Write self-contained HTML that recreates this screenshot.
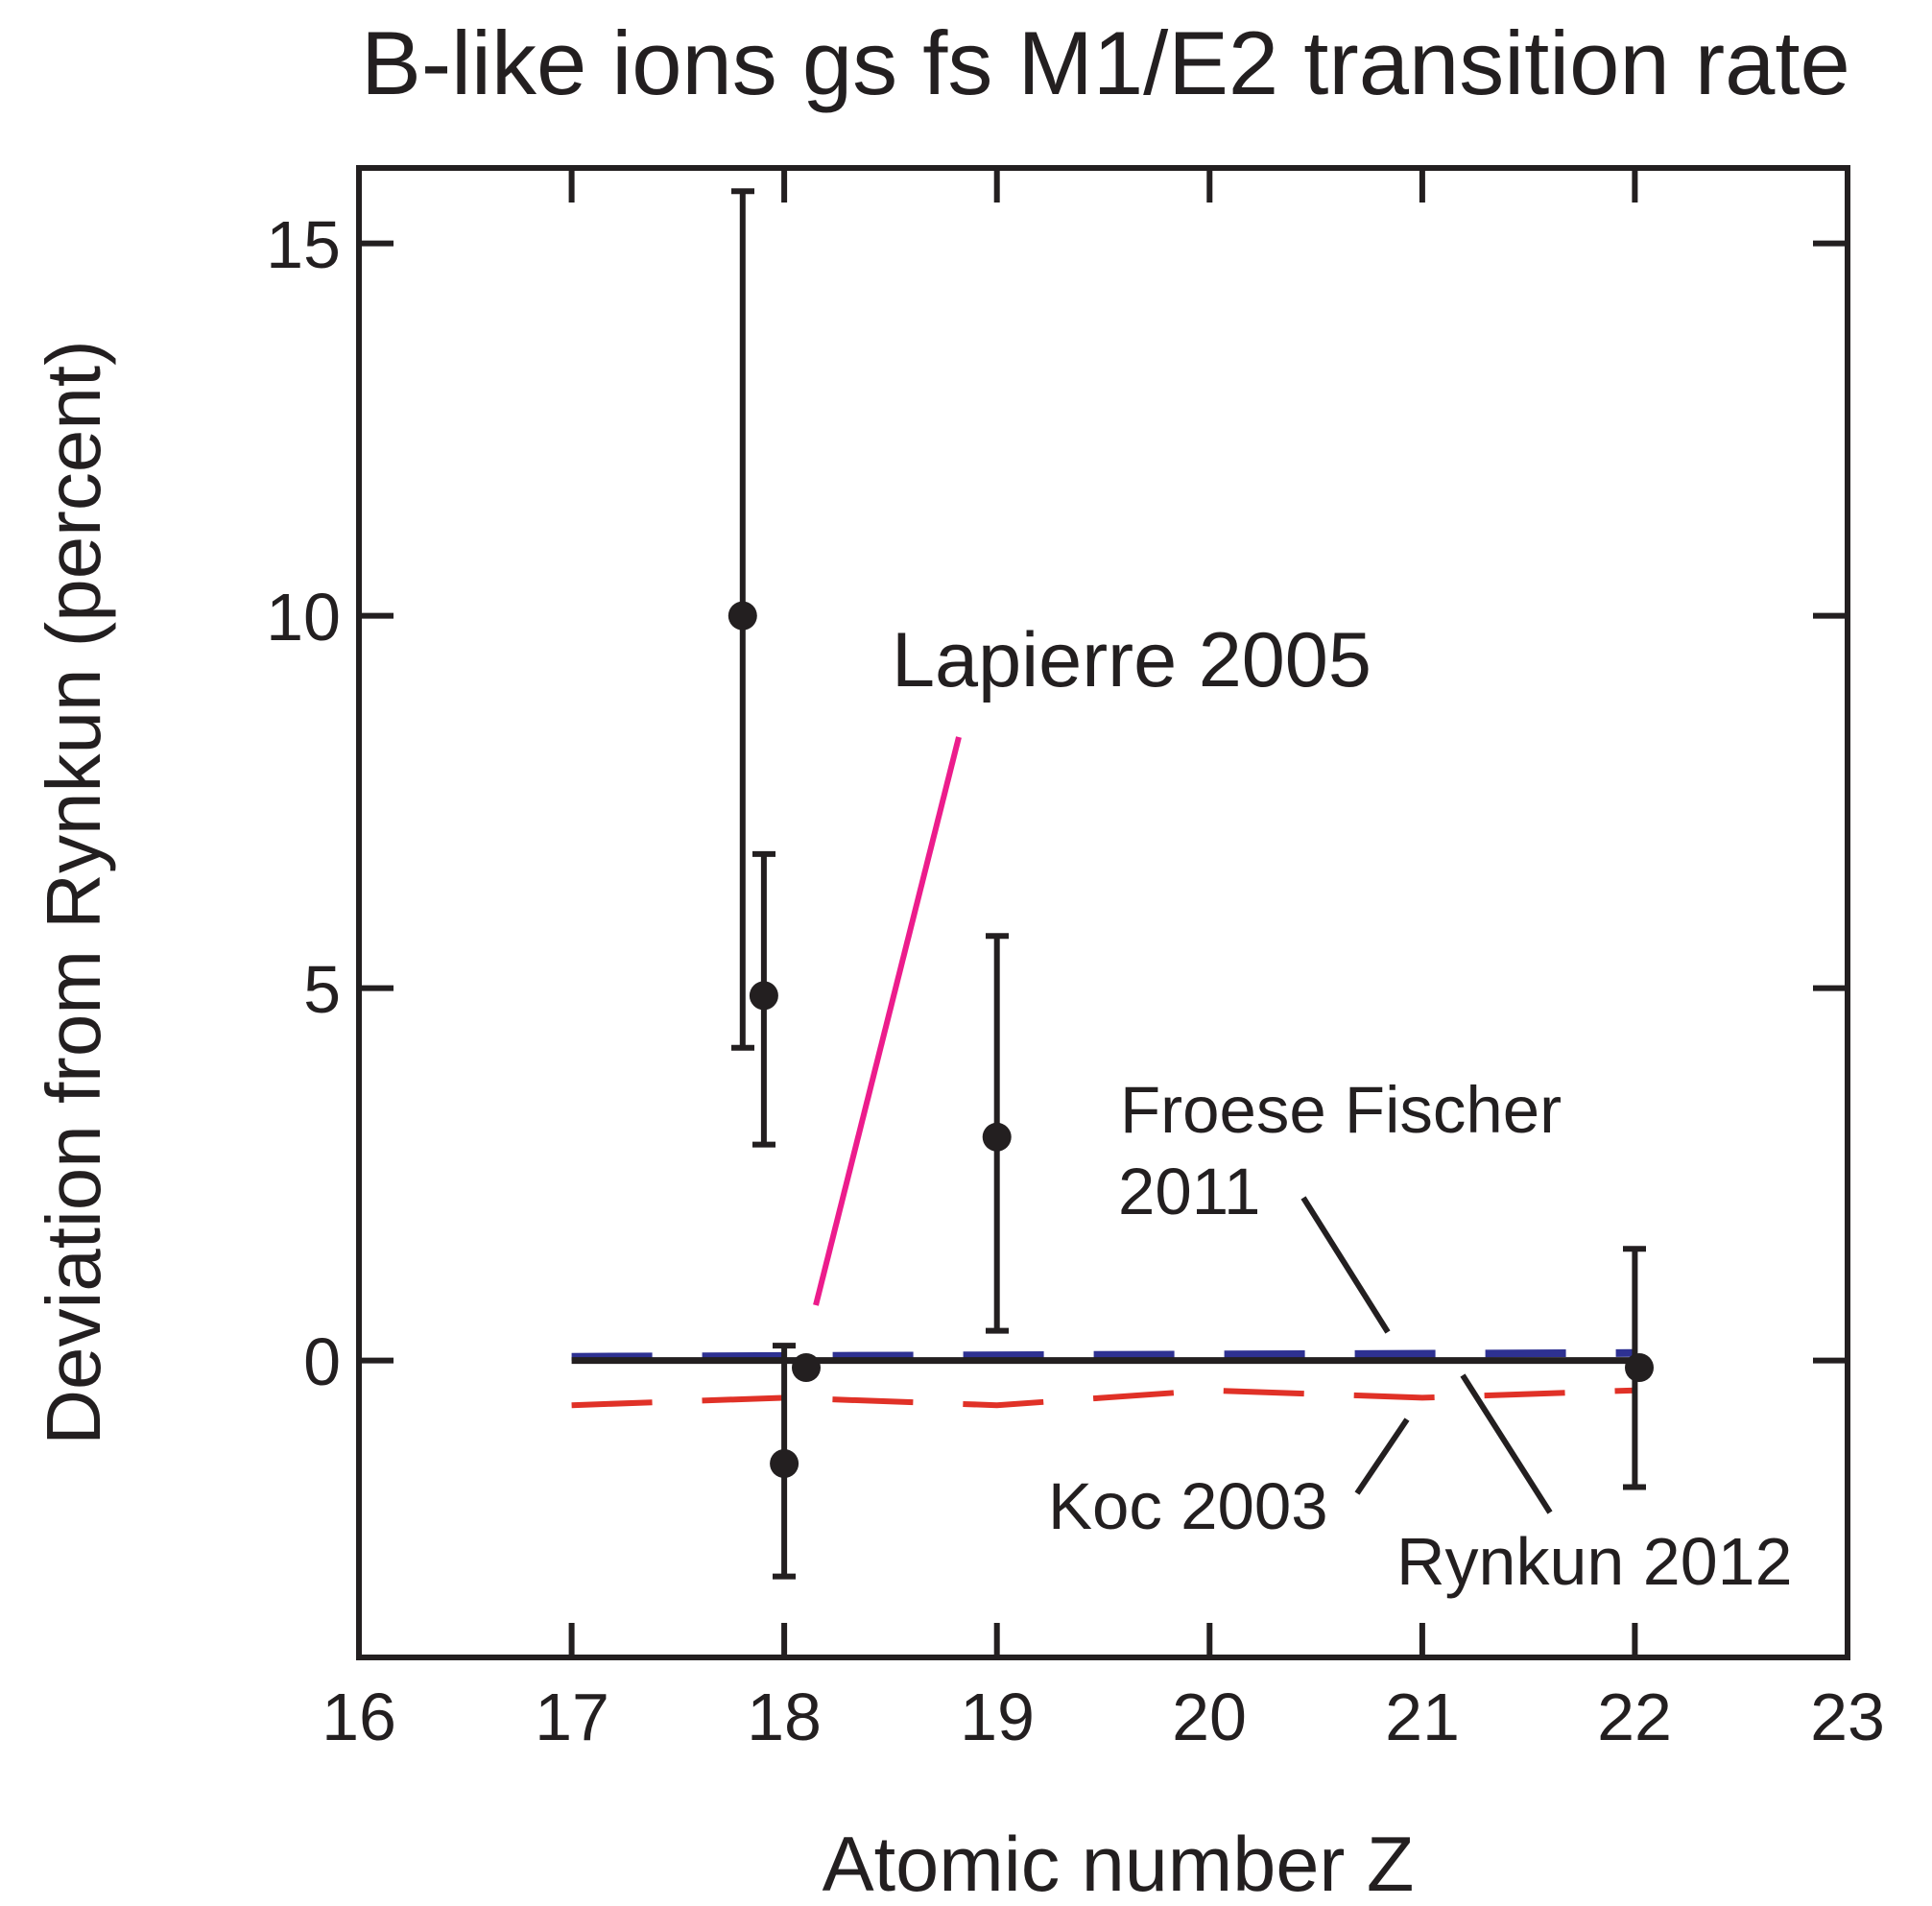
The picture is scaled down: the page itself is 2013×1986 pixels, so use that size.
<!DOCTYPE html>
<html><head><style>body{margin:0;background:#fff}svg{display:block}text{font-family:"Liberation Sans",sans-serif;fill:#231f20}</style></head><body>
<svg width="2013" height="1986" viewBox="0 0 2013 1986">
<text x="1152" y="98" font-size="94" text-anchor="middle">B-like ions gs fs M1/E2 transition rate</text>
<g stroke="#231f20" stroke-width="6" fill="none">
<rect x="374" y="175" width="1551" height="1552"/>
<path d="M595.6 1727v-36M595.6 175v36M817.1 1727v-36M817.1 175v36M1038.7 1727v-36M1038.7 175v36M1260.3 1727v-36M1260.3 175v36M1481.9 1727v-36M1481.9 175v36M1703.4 1727v-36M1703.4 175v36"/>
<path d="M374 1417.6h36M1925 1417.6h-36M374 1029.6h36M1925 1029.6h-36M374 641.6h36M1925 641.6h-36M374 253.6h36M1925 253.6h-36"/>
</g>
<g font-size="70" text-anchor="middle">
<text x="374" y="1813">16</text><text x="596" y="1813">17</text><text x="817" y="1813">18</text><text x="1039" y="1813">19</text><text x="1260" y="1813">20</text><text x="1482" y="1813">21</text><text x="1703" y="1813">22</text><text x="1925" y="1813">23</text>
</g>
<g font-size="70" text-anchor="end">
<text x="355" y="1443">0</text><text x="355" y="1055">5</text><text x="355" y="667">10</text><text x="355" y="279">15</text>
</g>
<text x="1165" y="1970" font-size="81" text-anchor="middle">Atomic number Z</text>
<text transform="translate(104,930) rotate(-90)" font-size="80" text-anchor="middle">Deviation from Rynkun (percent)</text>
<polyline points="595.6,1413.7 1703.4,1409.8" stroke="#2e3192" stroke-width="8" fill="none" stroke-dasharray="84,52"/>
<polyline points="595.6,1464.2 817.1,1456.4 1038.7,1464.2 1260.3,1448.7 1481.9,1456.4 1703.4,1448.7" stroke="#e03127" stroke-width="6" fill="none" stroke-dasharray="84,52"/>
<line x1="595.6" y1="1417.6" x2="1703.4" y2="1417.6" stroke="#231f20" stroke-width="7"/>
<line x1="850" y1="1360" x2="999" y2="768" stroke="#ec1c8c" stroke-width="6"/>
<g stroke="#231f20" stroke-width="6">
<line x1="1358" y1="1248" x2="1446" y2="1388"/>
<line x1="1414" y1="1556" x2="1466" y2="1479"/>
<line x1="1524" y1="1433" x2="1615" y2="1576"/>
</g>
<g stroke="#231f20" stroke-width="6" fill="none">
<path d="M773.8 1091.7V199.3M762 199.3h24M762 1091.7h24"/>
<path d="M795.9 1192.6V889.9M784 889.9h24M784 1192.6h24"/>
<path d="M817.1 1642.6V1402.1M805 1402.1h24M805 1642.6h24"/>
<path d="M1038.7 1386.6V975.3M1027 975.3h24M1027 1386.6h24"/>
<path d="M1703.4 1549.5V1301.2M1691 1301.2h24M1691 1549.5h24"/>
</g>
<g fill="#231f20">
<circle cx="773.8" cy="641.6" r="15"/><circle cx="795.9" cy="1037.4" r="15"/><circle cx="817.1" cy="1525" r="15"/><circle cx="840" cy="1425" r="15"/><circle cx="1038.7" cy="1184.8" r="15"/><circle cx="1708" cy="1425" r="15"/>
</g>
<text x="929" y="715" font-size="81">Lapierre 2005</text>
<text x="1167" y="1180" font-size="69">Froese Fischer</text>
<text x="1165" y="1265" font-size="69">2011</text>
<text x="1092" y="1593" font-size="69">Koc 2003</text>
<text x="1455" y="1651" font-size="70">Rynkun 2012</text>
</svg>
</body></html>
